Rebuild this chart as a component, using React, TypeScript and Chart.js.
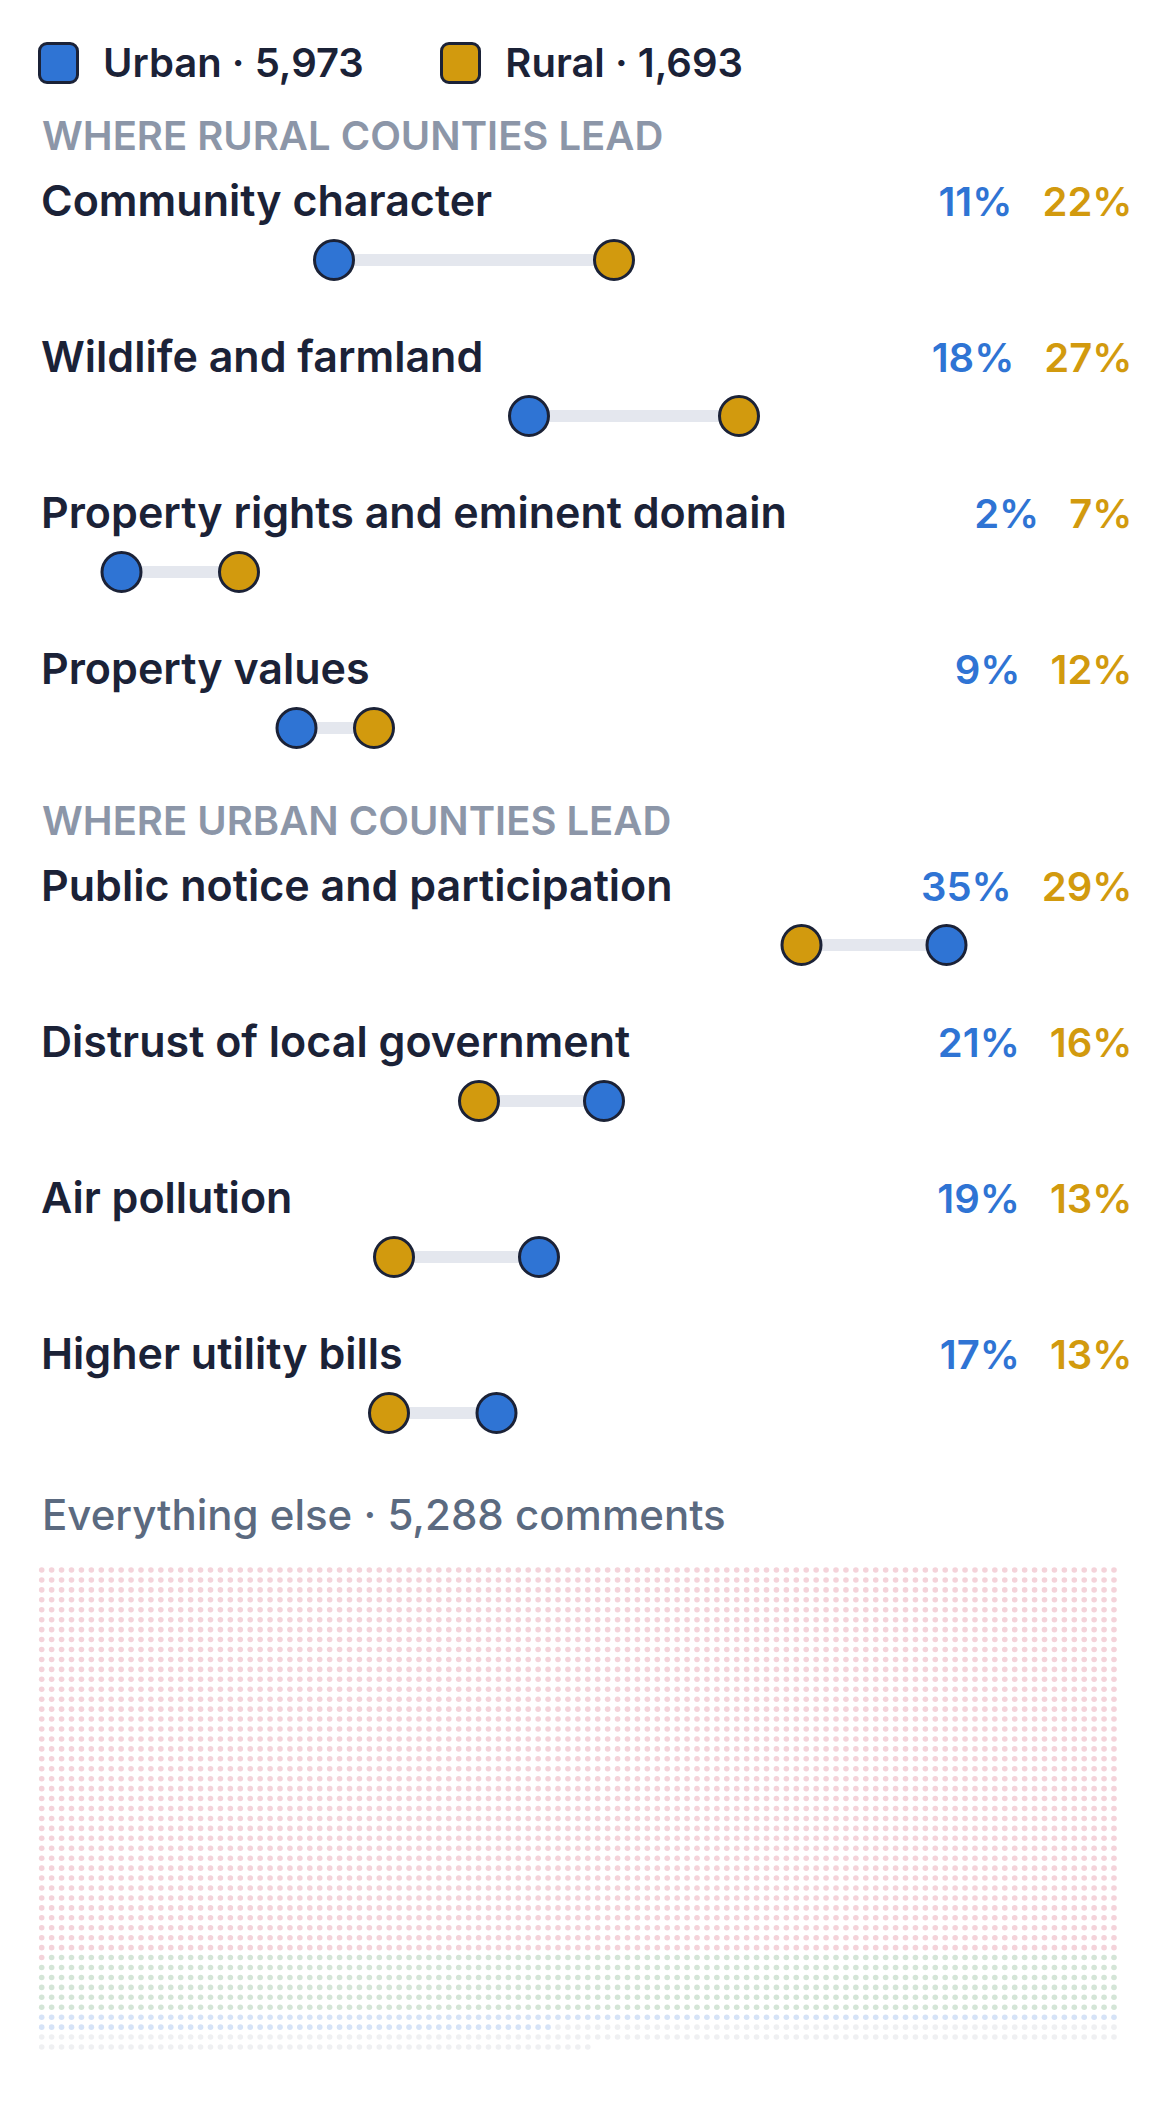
import React, { useEffect, useRef } from "react";
import { Chart, registerables } from "chart.js";

Chart.register(...registerables);

// legend
const seriesNames = ["Urban", "Rural"];
const seriesTotals = [5973, 1693];

// topics where rural counties lead (share of comments, %)
const ruralLeadTopics = [
  "Community character",
  "Wildlife and farmland",
  "Property rights and eminent domain",
  "Property values"
];
const ruralLeadUrban = [10.5, 18.3, 2.0, 9.0];
const ruralLeadRural = [21.7, 26.7, 6.7, 12.1];

// topics where urban counties lead
const urbanLeadTopics = [
  "Public notice and participation",
  "Distrust of local government",
  "Air pollution",
  "Higher utility bills"
];
const urbanLeadUrban = [35.0, 21.3, 18.7, 17.0];
const urbanLeadRural = [29.2, 16.3, 12.9, 12.7];

// everything else, one dot per comment
const otherTotal = 5288;
const otherGroups = [4252, 653, 161, 222];

const INK = "#1b2237";
const BLUE = "#2f74d4";
const GOLD = "#d29a0e";
const TRACK = "#e4e7ee";
const MUTED = "#8c96a8";
const SLATE = "#5b6a80";
const OTHER_COLORS = ["#f4d3da", "#d4e5d7", "#d6e3f7", "#eff0f2"];
const FONT = "Inter, 'Noto Sans', sans-serif";
const WAFFLE_COLS = 109;

const fmt = (n: number) => n.toLocaleString("en-US");

const Dumbbell = ({ urban, rural }: { urban: number; rural: number }) => {
  const ref = useRef<HTMLCanvasElement>(null);

  useEffect(() => {
    if (!ref.current) return;
    const dot = (color: string) => ({
      pointRadius: 19.5,
      pointBackgroundColor: color,
      pointBorderColor: INK,
      pointBorderWidth: 3,
      showLine: false,
      clip: false as const,
      order: 1
    });
    const chart = new Chart(ref.current, {
      type: "scatter",
      data: {
        datasets: [
          { label: seriesNames[0], data: [{ x: urban, y: 0 }], ...dot(BLUE) },
          { label: seriesNames[1], data: [{ x: rural, y: 0 }], ...dot(GOLD) },
          {
            label: "gap",
            data: [
              { x: urban, y: 0 },
              { x: rural, y: 0 }
            ],
            showLine: true,
            borderColor: TRACK,
            borderWidth: 12,
            pointRadius: 0,
            clip: false as const,
            order: 2
          }
        ]
      },
      options: {
        animation: false,
        responsive: false,
        events: [],
        layout: { padding: { left: 71.5, right: 48.5, top: 0, bottom: 0 } },
        scales: {
          x: { type: "linear", min: 0, max: 42, display: false },
          y: { type: "linear", min: -1, max: 1, display: false }
        },
        plugins: { legend: { display: false }, tooltip: { enabled: false } }
      }
    });
    return () => {
      chart.destroy();
    };
  }, [urban, rural]);

  return (
    <canvas
      ref={ref}
      width={1170}
      height={60}
      style={{ display: "block", width: 1170, height: 60, marginTop: 8.7 }}
    />
  );
};

const Waffle = () => {
  const ref = useRef<HTMLCanvasElement>(null);

  useEffect(() => {
    if (!ref.current) return;
    let start = 0;
    const datasets = otherGroups.map((count, g) => {
      const data = [];
      for (let i = start; i < start + count; i++) {
        data.push({ x: i % WAFFLE_COLS, y: Math.floor(i / WAFFLE_COLS) });
      }
      start += count;
      return {
        label: `group ${g + 1}`,
        data,
        pointRadius: 2.8,
        pointBorderWidth: 0,
        pointBackgroundColor: OTHER_COLORS[g],
        clip: false as const
      };
    });
    const rows = Math.ceil(otherTotal / WAFFLE_COLS) - 1;
    const chart = new Chart(ref.current, {
      type: "scatter",
      data: { datasets },
      options: {
        animation: false,
        responsive: false,
        events: [],
        layout: { padding: { left: 41.7, right: 56, top: 20, bottom: 23 } },
        scales: {
          x: { type: "linear", min: 0, max: WAFFLE_COLS - 1, display: false },
          y: { type: "linear", min: 0, max: rows, reverse: true, display: false }
        },
        plugins: { legend: { display: false }, tooltip: { enabled: false } }
      }
    });
    return () => {
      chart.destroy();
    };
  }, []);

  return (
    <canvas
      ref={ref}
      width={1170}
      height={520}
      style={{ display: "block", width: 1170, height: 520, marginTop: 13.7 }}
    />
  );
};

const TopicRow = ({
  topic,
  urban,
  rural,
  last
}: {
  topic: string;
  urban: number;
  rural: number;
  last: boolean;
}) => (
  <div style={{ marginBottom: last ? 0 : 45.3 }}>
    <div
      style={{
        display: "flex",
        justifyContent: "space-between",
        alignItems: "baseline",
        height: 42,
        lineHeight: "42px",
        padding: "0 37.5px 0 41px"
      }}
    >
      <span style={{ color: INK, fontWeight: 600, fontSize: 43 }}>{topic}</span>
      <span style={{ display: "flex", gap: 30, fontWeight: 600, fontSize: 40 }}>
        <span style={{ color: BLUE }}>{Math.round(urban)}%</span>
        <span style={{ color: GOLD }}>{Math.round(rural)}%</span>
      </span>
    </div>
    <Dumbbell urban={urban} rural={rural} />
  </div>
);

const GroupTitle = ({ text, top }: { text: string; top: number }) => (
  <div
    style={{
      marginTop: top,
      marginBottom: 24.5,
      height: 38,
      lineHeight: "38px",
      fontSize: 40,
      fontWeight: 600,
      color: MUTED,
      paddingLeft: 42
    }}
  >
    {text}
  </div>
);

const App = () => {
  const legendColors = [BLUE, GOLD];
  return (
    <div
      style={{
        position: "absolute",
        left: 0,
        top: 0,
        width: 1170,
        height: 2124,
        background: "#ffffff",
        fontFamily: FONT,
        overflow: "hidden"
      }}
    >
      <div
        style={{
          display: "flex",
          alignItems: "center",
          marginTop: 41.7,
          height: 42,
          paddingLeft: 37.5
        }}
      >
        {seriesNames.map((name, i) => (
          <div key={name} style={{ display: "flex", alignItems: "center", marginLeft: i === 0 ? 0 : 76 }}>
            <span
              style={{
                width: 41,
                height: 42,
                boxSizing: "border-box",
                border: `3px solid ${INK}`,
                borderRadius: 9,
                background: legendColors[i]
              }}
            />
            <span
              style={{
                marginLeft: 24.5,
                fontSize: 40,
                lineHeight: "42px",
                fontWeight: 600,
                color: INK
              }}
            >
              {name} · {fmt(seriesTotals[i])}
            </span>
          </div>
        ))}
      </div>

      <GroupTitle text="WHERE RURAL COUNTIES LEAD" top={33.1} />
      {ruralLeadTopics.map((t, i) => (
        <TopicRow
          key={t}
          topic={t}
          urban={ruralLeadUrban[i]}
          rural={ruralLeadRural[i]}
          last={i === ruralLeadTopics.length - 1}
        />
      ))}

      <GroupTitle text="WHERE URBAN COUNTIES LEAD" top={43.8} />
      {urbanLeadTopics.map((t, i) => (
        <TopicRow
          key={t}
          topic={t}
          urban={urbanLeadUrban[i]}
          rural={urbanLeadRural[i]}
          last={i === urbanLeadTopics.length - 1}
        />
      ))}

      <div
        style={{
          marginTop: 51.3,
          height: 42,
          lineHeight: "42px",
          fontSize: 42,
          fontWeight: 500,
          color: SLATE,
          paddingLeft: 42
        }}
      >
        Everything else · {fmt(otherTotal)} comments
      </div>
      <Waffle />
    </div>
  );
};

export default App;
